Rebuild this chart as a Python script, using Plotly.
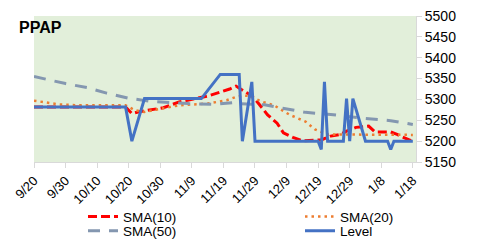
import plotly.graph_objects as go

# ---- data ----
level_dates = ["2018-09-20", "2018-10-19", "2018-10-21", "2018-10-25", "2018-11-12", "2018-11-18",
               "2018-11-24", "2018-11-25", "2018-11-28", "2018-11-29", "2018-12-19", "2018-12-20",
               "2018-12-21", "2018-12-22", "2018-12-27", "2018-12-28", "2018-12-29", "2018-12-30",
               "2019-01-03", "2019-01-10", "2019-01-11", "2019-01-12", "2019-01-18"]
level_vals = [5282, 5282, 5200, 5302, 5302, 5360,
              5360, 5200, 5342, 5200, 5200, 5180,
              5342, 5200, 5200, 5302, 5200, 5302,
              5200, 5200, 5180, 5200, 5200]

sma10_dates = ["2018-09-20", "2018-10-19", "2018-10-21", "2018-10-23", "2018-10-31", "2018-11-05",
               "2018-11-14", "2018-11-21", "2018-11-23", "2018-11-27", "2018-11-29", "2018-12-03",
               "2018-12-06", "2018-12-08", "2018-12-11", "2018-12-14", "2018-12-20", "2018-12-23",
               "2018-12-26", "2018-12-28", "2018-12-31", "2019-01-04", "2019-01-06", "2019-01-11",
               "2019-01-13", "2019-01-18"]
sma10_vals = [5282, 5282, 5266, 5270, 5280, 5294,
              5308, 5325, 5332, 5313, 5301, 5263,
              5243, 5220, 5209, 5201, 5203, 5212,
              5216, 5224, 5233, 5236, 5222, 5222,
              5216, 5199]

sma20_dates = ["2018-09-20", "2018-09-28", "2018-10-04", "2018-10-19", "2018-10-22", "2018-10-25",
               "2018-11-05", "2018-11-14", "2018-11-20", "2018-11-23", "2018-11-25", "2018-11-27",
               "2018-12-01", "2018-12-05", "2018-12-10", "2018-12-15", "2018-12-18", "2018-12-22",
               "2019-01-18"]
sma20_vals = [5297, 5288, 5286, 5286, 5274, 5270,
              5286, 5290, 5298, 5306, 5309, 5309,
              5295, 5286, 5263, 5247, 5228, 5216,
              5215]

sma50_dates = ["2018-09-20", "2018-09-30", "2018-10-07", "2018-10-13", "2018-10-20", "2018-10-27",
               "2018-11-08", "2018-11-16", "2018-11-23", "2018-11-24", "2018-12-02", "2018-12-08",
               "2018-12-15", "2018-12-23", "2019-01-02", "2019-01-11", "2019-01-18"]
sma50_vals = [5355, 5338, 5328, 5315, 5303, 5295,
              5290, 5288, 5293, 5290, 5287, 5278,
              5269, 5264, 5255, 5249, 5240]

tick_dates = ["2018-09-20", "2018-09-30", "2018-10-10", "2018-10-20", "2018-10-30", "2018-11-09",
              "2018-11-19", "2018-11-29", "2018-12-09", "2018-12-19", "2018-12-29", "2019-01-08",
              "2019-01-18"]
tick_labels = ["9/20", "9/30", "10/10", "10/20", "10/30", "11/9", "11/19", "11/29", "12/9",
               "12/19", "12/29", "1/8", "1/18"]

FONT = "Liberation Sans, Arial, sans-serif"
W, H = 470, 240  # page body has an 8px margin

fig = go.Figure()
fig.add_trace(go.Scatter(x=sma10_dates, y=sma10_vals, mode="lines", name="SMA(10)", legend="legend",
                         line=dict(color="#FF0000", width=3, dash="9px,4px")))
fig.add_trace(go.Scatter(x=sma20_dates, y=sma20_vals, mode="lines", name="SMA(20)", legend="legend2",
                         line=dict(color="#ED7D31", width=2.5, dash="2.5px,4px")))
fig.add_trace(go.Scatter(x=sma50_dates, y=sma50_vals, mode="lines", name="SMA(50)", legend="legend3",
                         line=dict(color="#8497B0", width=3, dash="12px,9px")))
fig.add_trace(go.Scatter(x=level_dates, y=level_vals, mode="lines", name="Level", legend="legend4",
                         line=dict(color="#4472C4", width=3)))


def leg(xpx, ypx):
    return dict(orientation="h", xref="container", yref="container",
                x=xpx / W, xanchor="left", y=1 - ypx / H, yanchor="middle",
                font=dict(family=FONT, size=13.5, color="#000000"),
                bgcolor="rgba(0,0,0,0)", borderwidth=0, itemwidth=30)


fig.update_layout(
    width=W, height=H,
    margin=dict(l=26, r=62, t=8, b=86, pad=0, autoexpand=False),
    paper_bgcolor="white",
    plot_bgcolor="#E2EFDA",
    font=dict(family=FONT, color="#000000"),
    title=dict(text="<b>PPAP</b>", font=dict(family=FONT, size=16, color="#000000"),
               xref="container", yref="container", x=11 / W, xanchor="left",
               y=1 - 19.5 / H, yanchor="middle"),
    showlegend=True,
    legend=leg(75, 208.7),
    legend2=leg(292, 208.7),
    legend3=leg(75, 223),
    legend4=leg(292, 223),
    xaxis=dict(type="date", range=["2018-09-20", "2019-01-19"],
               tickmode="array", tickvals=tick_dates, ticktext=tick_labels,
               tickangle=-45, ticks="outside", ticklen=5, tickcolor="#D9D9D9",
               showline=True, linecolor="#D9D9D9", linewidth=1,
               showgrid=False, zeroline=False,
               tickfont=dict(family=FONT, size=13, color="#000000")),
    yaxis=dict(range=[5150, 5500], dtick=50, side="right",
               ticks="outside", ticklen=5, tickcolor="#D9D9D9",
               showline=True, linecolor="#D9D9D9", linewidth=1,
               showgrid=False, zeroline=False, ticklabeloverflow="allow",
               tickfont=dict(family=FONT, size=14, color="#000000")),
)

fig.write_html("out.html")
